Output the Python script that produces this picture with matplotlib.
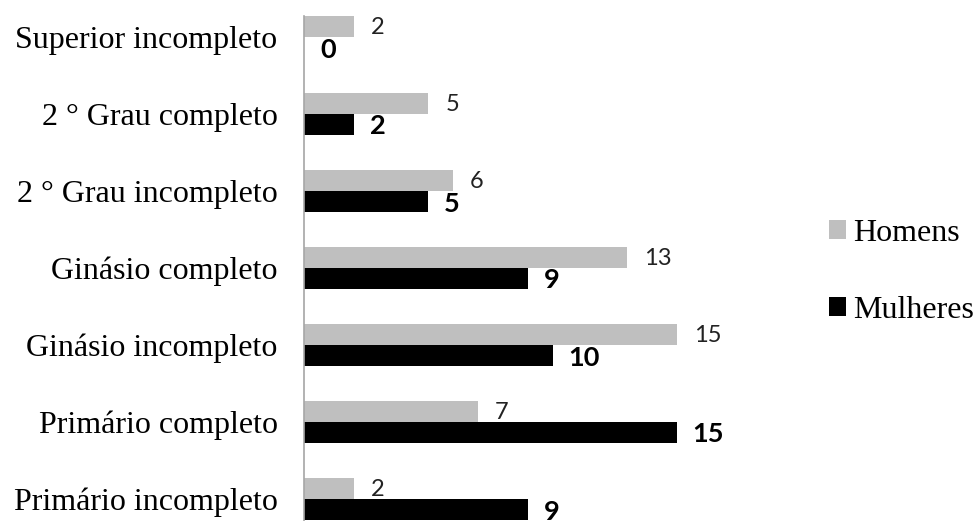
import matplotlib
matplotlib.use("Agg")
import matplotlib.pyplot as plt
from matplotlib.patches import Patch
import numpy as np

categories = [
    "Superior incompleto",
    "2 ° Grau completo",
    "2 ° Grau incompleto",
    "Ginásio completo",
    "Ginásio incompleto",
    "Primário completo",
    "Primário incompleto",
]
homens = [2, 5, 6, 13, 15, 7, 2]
mulheres = [0, 2, 5, 9, 10, 15, 9]
series_names = ["Homens", "Mulheres"]

W, H = 977, 521
fig = plt.figure(figsize=(W / 100, H / 100), dpi=100)

# axes placed in pixel terms: category i centred at 37 + 77*i px from top
left_px, top_px = 304, 16
unit_px = 24.85
xmax = 16
ax = fig.add_axes([left_px / W, 0, xmax * unit_px / W, (H - top_px) / H])
ax.set_xlim(0, xmax)
ax.set_ylim((H - 37) / 77, -(37 - top_px) / 77)

y = np.arange(len(categories))
h = 21 / 77
gray = "#BFBFBF"
ax.barh(y - h / 2, homens, height=h, color=gray, label=series_names[0])
ax.barh(y + h / 2, mulheres, height=h, color="black", label=series_names[1])

for yi, v in zip(y, homens):
    ax.annotate(str(v), xy=(v, yi - h / 2), xytext=(17, -1),
                textcoords="offset pixels", va="center", ha="left",
                fontsize=17, family="Lato", color="#222222")
for yi, v in zip(y, mulheres):
    ax.annotate(str(v), xy=(v, yi + h / 2), xytext=(16, -2),
                textcoords="offset pixels", va="center", ha="left",
                fontsize=19.5, family="Lato", fontweight="bold", color="black")

ax.set_yticks(y)
ax.set_yticklabels(categories, family="Liberation Serif", fontsize=23)
ax.tick_params(axis="y", length=0, pad=19)
ax.set_xticks([])
for s in ["top", "right", "bottom"]:
    ax.spines[s].set_visible(False)
ax.spines["left"].set_color("#A6A6A6")
ax.spines["left"].set_linewidth(1.2)

handles = [Patch(facecolor=gray), Patch(facecolor="black")]
fig.legend(handles, series_names, loc="center left",
           bbox_to_anchor=(829 / W, 1 - 272 / H), frameon=False,
           prop={"family": "Liberation Serif", "size": 23},
           handlelength=0.52, handleheight=0.52, handletextpad=0.25,
           labelspacing=1.5, borderpad=0, borderaxespad=0)

fig.savefig("out.png", dpi=100)
